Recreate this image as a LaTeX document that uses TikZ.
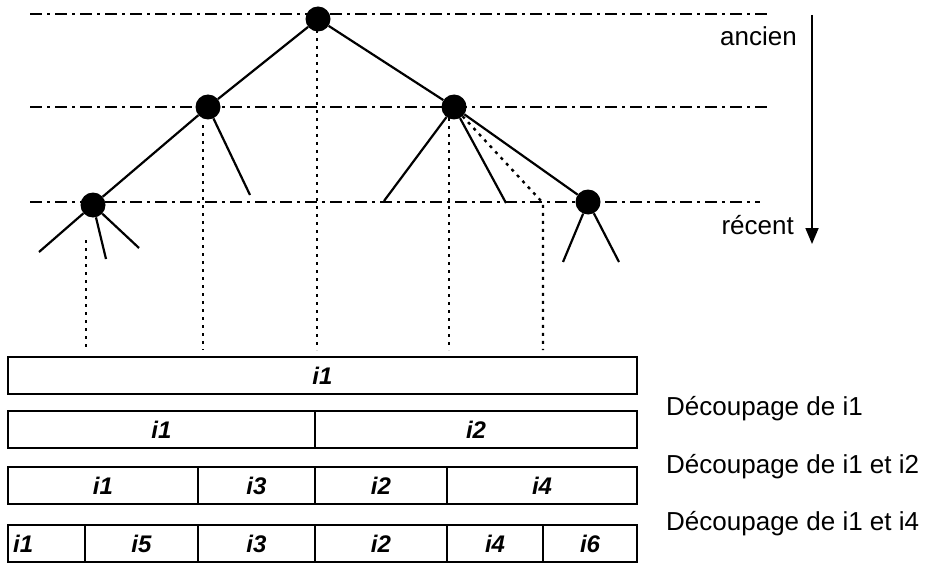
\documentclass[tikz,border=0pt]{standalone}
\usepackage{fontspec}
\setmainfont{Liberation Sans}
\usetikzlibrary{arrows.meta}
\begin{document}
\begin{tikzpicture}[x=1pt,y=-1pt,
  dot/.style={circle,fill=black,inner sep=0pt,minimum size=25pt},
  edge/.style={line width=2.2pt},
  level/.style={line width=1.8pt,dash pattern=on 12pt off 5pt on 3pt off 5pt},
  proj/.style={line width=2.4pt,dash pattern=on 3pt off 5pt},
  cell/.style={draw,line width=2.3pt,anchor=north west,outer sep=0pt,minimum height=37pt,inner sep=0pt,font=\fontsize{24}{28}\selectfont\bfseries\itshape},
  lab/.style={font=\fontsize{26}{30}\selectfont,inner sep=0pt}]
\useasboundingbox (0,0) rectangle (933,564);
% time levels
\coordinate (l1a) at (30,14);  \coordinate (l1b) at (767,14);
\coordinate (l2a) at (30,107); \coordinate (l2b) at (767,107);
\coordinate (l3a) at (30,202); \coordinate (l3b) at (760,202);
\draw[level] (l1a) -- (l1b);
\draw[level] (l2a) -- (l2b);
\draw[level] (l3a) -- (l3b);
% projections
\coordinate (p1t) at (86,240);  \coordinate (p1b) at (86,350);
\coordinate (p2t) at (203,125); \coordinate (p2b) at (203,350);
\coordinate (p3t) at (317,30);  \coordinate (p3b) at (317,350);
\coordinate (p4t) at (449,118); \coordinate (p4b) at (449,350);
\coordinate (d1) at (543,203);  \coordinate (p5b) at (543,350);
\draw[proj] (p1t) -- (p1b);
\draw[proj] (p2t) -- (p2b);
\draw[proj] (p3t) -- (p3b);
\draw[proj] (p4t) -- (p4b);
% tree nodes
\node[dot] (r) at (318,19) {};
\node[dot] (lm) at (208,107) {};
\node[dot] (rm) at (454,107) {};
\node[dot] (lb) at (93,205) {};
\node[dot] (rb) at (588,202) {};
\draw[proj] (rm) -- (d1) -- (p5b);
\draw[edge] (r) -- (lm);
\draw[edge] (r) -- (rm);
\draw[edge] (lm) -- (lb);
\draw[edge] (rm) -- (rb);
% stubs
\coordinate (s1) at (250,195);
\coordinate (s2) at (39,252);
\coordinate (s3) at (106,259);
\coordinate (s4) at (139,248);
\coordinate (s5) at (384,201);
\coordinate (s6) at (506,203);
\coordinate (s7) at (563,262);
\coordinate (s8) at (619,262);
\draw[edge] (lm) -- (s1);
\draw[edge] (lb) -- (s2);
\draw[edge] (lb) -- (s3);
\draw[edge] (lb) -- (s4);
\draw[edge] (rm) -- (s5);
\draw[edge] (rm) -- (s6);
\draw[edge] (rb) -- (s7);
\draw[edge] (rb) -- (s8);
% time arrow
\coordinate (at) at (812,15); \coordinate (ab) at (812,244);
\draw[line width=1.8pt,-{Triangle[width=13pt,length=16pt]}] (at) -- (ab);
\node[lab,anchor=base east] (anc) at (797,46) {ancien};
\node[lab,anchor=base east] (rec) at (794,234) {récent};
% boxes
\node[cell,minimum width=629pt] (a1) at (8,357) {i1};
\node[cell,minimum width=307pt] (b1) at (8,411) {i1};
\node[cell,minimum width=322pt] (b2) at (315,411) {i2};
\node[cell,minimum width=190pt] (c1) at (8,467) {i1};
\node[cell,minimum width=117pt] (c3) at (198,467) {i3};
\node[cell,minimum width=132pt] (c2) at (315,467) {i2};
\node[cell,minimum width=190pt] (c4) at (447,467) {i4};
\node[cell,minimum width=77pt] (e1) at (8,525) {};
\node[font=\fontsize{24}{28}\selectfont\bfseries\itshape,anchor=west,inner sep=0pt] (e1t) at ([xshift=5pt]e1.west) {i1};
\node[cell,minimum width=113pt] (e5) at (85,525) {i5};
\node[cell,minimum width=117pt] (e3) at (198,525) {i3};
\node[cell,minimum width=132pt] (e2) at (315,525) {i2};
\node[cell,minimum width=96pt] (e4) at (447,525) {i4};
\node[cell,minimum width=94pt] (e6) at (543,525) {i6};
% captions
\node[lab,anchor=west] (t1) at (666,409) {Découpage de i1};
\node[lab,anchor=west] (t2) at (666,467) {Découpage de i1 et i2};
\node[lab,anchor=west] (t3) at (666,524) {Découpage de i1 et i4};
\end{tikzpicture}
\end{document}
